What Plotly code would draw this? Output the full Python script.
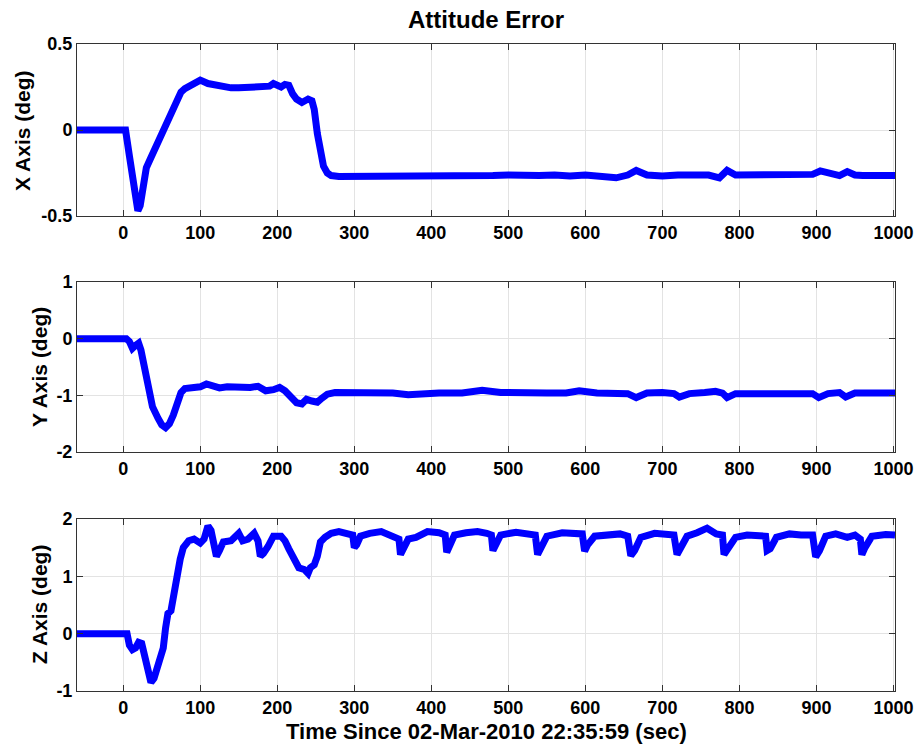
import plotly.graph_objects as go

# ---------------- data ----------------
x_t = [-60, 3, 8, 14, 19, 22, 26, 30, 35, 40, 45, 50, 55, 60, 65, 70, 75, 80, 90, 100,
       110, 120, 130, 140, 150, 160, 170, 180, 190, 195, 200, 205, 210, 215, 220, 225,
       232, 240, 245, 248, 252, 256, 260, 265, 270, 280, 300, 320, 340, 360, 380, 400,
       420, 440, 460, 480, 500, 520, 540, 560, 580, 600, 620, 640, 655, 666, 680, 700,
       720, 740, 760, 774, 784, 795, 820, 840, 860, 880, 895, 905, 920, 930, 940, 950,
       960, 980, 1002]
x_err = [0, 0, -0.15, -0.35, -0.47, -0.44, -0.32, -0.22, -0.17, -0.12, -0.07, -0.03, 0.02,
         0.07, 0.12, 0.18, 0.22, 0.24, 0.27, 0.29, 0.27, 0.26, 0.25, 0.245, 0.245, 0.25,
         0.245, 0.25, 0.255, 0.27, 0.26, 0.25, 0.265, 0.26, 0.21, 0.18, 0.16, 0.18, 0.17,
         0.12, -0.02, -0.14, -0.21, -0.25, -0.265, -0.27, -0.27, -0.275, -0.27, -0.27,
         -0.275, -0.27, -0.268, -0.265, -0.27, -0.265, -0.262, -0.268, -0.265, -0.262,
         -0.268, -0.262, -0.265, -0.278, -0.262, -0.235, -0.262, -0.268, -0.262, -0.265,
         -0.262, -0.278, -0.235, -0.262, -0.262, -0.265, -0.265, -0.262, -0.258, -0.238,
         -0.255, -0.265, -0.242, -0.262, -0.265, -0.262, -0.265]

y_t = [-60, 4, 8, 12, 16, 20, 23, 27, 32, 38, 45, 50, 55, 60, 65, 70, 75, 80, 90, 100,
       108, 115, 125, 135, 150, 165, 175, 185, 195, 203, 210, 218, 225, 232, 238, 245,
       252, 258, 265, 275, 290, 320, 350, 370, 390, 410, 440, 466, 490, 520, 550, 575,
       592, 615, 640, 655, 666, 680, 700, 715, 722, 735, 755, 769, 778, 784, 795, 820,
       850, 880, 895, 903, 915, 930, 938, 950, 975, 1002]
y_err = [0, 0, -0.05, -0.17, -0.12, -0.08, -0.2, -0.5, -0.85, -1.2, -1.4, -1.52, -1.57,
         -1.5, -1.35, -1.18, -0.95, -0.88, -0.86, -0.85, -0.8, -0.83, -0.87, -0.85, -0.87,
         -0.86, -0.84, -0.92, -0.9, -0.86, -0.92, -1.05, -1.13, -1.15, -1.07, -1.1, -1.12,
         -1.05, -0.98, -0.95, -0.95, -0.96, -0.96, -0.99, -0.96, -0.96, -0.96, -0.91, -0.95,
         -0.97, -0.96, -0.96, -0.92, -0.96, -0.97, -0.97, -1.04, -0.96, -0.95, -0.97, -1.03,
         -0.97, -0.95, -0.93, -0.96, -1.04, -0.97, -0.97, -0.96, -0.96, -0.97, -1.04, -0.97,
         -0.95, -1.03, -0.96, -0.96, -0.96]

z_t = [-60, 5, 8, 12, 16, 20, 24, 28, 32, 36, 40, 44, 48, 52, 55, 58, 62, 66, 70, 74, 78,
       85, 92, 100, 105, 110, 114, 118, 121, 125, 130, 140, 150, 155, 162, 170, 175, 178,
       182, 188, 195, 205, 210, 215, 222, 228, 235, 240, 243, 248, 252, 256, 262, 270, 280,
       290, 298, 300, 303, 308, 320, 335, 348, 358, 360, 364, 370, 380, 395, 410, 418, 420,
       424, 430, 445, 460, 472, 478, 480, 484, 490, 510, 525, 535, 538, 542, 550, 570, 585,
       596, 599, 603, 612, 630, 645, 655, 659, 664, 672, 690, 705, 715, 719, 723, 732, 745,
       758, 770, 778, 780, 785, 795, 810, 825, 834, 836, 840, 848, 865, 880, 895, 899, 904,
       912, 925, 940, 950, 957, 959, 963, 972, 990, 1002]
z_err = [0, 0, -0.2, -0.28, -0.25, -0.15, -0.17, -0.4, -0.72, -0.85, -0.78, -0.62, -0.5,
         -0.25, 0.1, 0.35, 0.4, 0.75, 1.15, 1.3, 1.5, 1.62, 1.65, 1.58, 1.65, 1.88, 1.8, 1.6,
         1.35, 1.45, 1.6, 1.62, 1.75, 1.62, 1.65, 1.75, 1.62, 1.35, 1.4, 1.52, 1.7, 1.7, 1.62,
         1.48, 1.3, 1.15, 1.12, 1.05, 1.15, 1.2, 1.35, 1.6, 1.68, 1.75, 1.78, 1.75, 1.72, 1.5,
         1.55, 1.7, 1.75, 1.78, 1.7, 1.65, 1.38, 1.5, 1.65, 1.68, 1.78, 1.76, 1.72, 1.42, 1.55,
         1.72, 1.76, 1.78, 1.75, 1.72, 1.45, 1.55, 1.72, 1.77, 1.75, 1.72, 1.38, 1.5, 1.7,
         1.76, 1.75, 1.74, 1.44, 1.55, 1.7, 1.73, 1.74, 1.7, 1.36, 1.45, 1.68, 1.75, 1.74,
         1.72, 1.38, 1.5, 1.7, 1.76, 1.84, 1.74, 1.72, 1.38, 1.5, 1.68, 1.72, 1.72, 1.7, 1.45,
         1.48, 1.68, 1.74, 1.72, 1.72, 1.34, 1.45, 1.7, 1.74, 1.68, 1.72, 1.65, 1.38, 1.5,
         1.7, 1.73, 1.72]

x_ticks = [0, 100, 200, 300, 400, 500, 600, 700, 800, 900, 1000]
panel_yticks = [[-0.5, 0, 0.5], [-2, -1, 0, 1], [-1, 0, 1, 2]]
panel_ytext = [["-0.5", "0", "0.5"], ["-2", "-1", "0", "1"], ["-1", "0", "1", "2"]]
panel_yrange = [[-0.5, 0.5], [-2, 1], [-1, 2]]
panel_ylabel = ["X Axis (deg)", "Y Axis (deg)", "Z Axis (deg)"]
title_text = "Attitude Error"
xlabel_text = "Time Since 02-Mar-2010 22:35:59 (sec)"

# ---------------- figure ----------------
W, H = 917, 750
ML, MR, MT, MB = 77, 22, 44, 59
plot_h = H - MT - MB
plot_w = W - ML - MR

def dom(top_px, bot_px):
    return [1 - (bot_px - MT) / plot_h, 1 - (top_px - MT) / plot_h]

domains = [dom(44, 216), dom(282, 452), dom(519, 691)]
ylabel_x_px = [22, 39, 39]

FONT = "Liberation Sans, Arial, Helvetica, sans-serif"
AXC = "#333333"

fig = go.Figure()
series = [(x_t, x_err), (y_t, y_err), (z_t, z_err)]
for i, (tt, vv) in enumerate(series):
    sfx = "" if i == 0 else str(i + 1)
    fig.add_trace(go.Scatter(x=tt, y=vv, mode="lines",
                             line=dict(color="#0000ff", width=7),
                             xaxis="x" + sfx, yaxis="y" + sfx,
                             showlegend=False, hoverinfo="skip"))

axis_common = dict(showline=True, mirror="ticks", linecolor=AXC, linewidth=1,
                   ticks="inside", ticklen=6, tickcolor=AXC, tickwidth=1,
                   showgrid=True, gridcolor="#e3e3e3", gridwidth=1, zeroline=False,
                   automargin=False,
                   tickfont=dict(family=FONT, size=18, color="#000000", weight="bold"))

layout = dict(width=W, height=H, margin=dict(l=ML, r=MR, t=MT, b=MB, autoexpand=False),
              plot_bgcolor="white", paper_bgcolor="white", showlegend=False,
              title=dict(text=title_text, x=0.5, xref="paper", xanchor="center",
                         y=1 - 20 / H, yref="container", yanchor="middle",
                         automargin=False,
                         font=dict(family=FONT, size=24, color="#000000", weight="bold")))

annotations = []
for i in range(3):
    sfx = "" if i == 0 else str(i + 1)
    xa = dict(axis_common, domain=[0, 1], range=[-60, 1002], tickvals=x_ticks,
              ticktext=[str(v) for v in x_ticks], anchor="y" + sfx)
    ya = dict(axis_common, domain=domains[i], range=panel_yrange[i],
              tickvals=panel_yticks[i], ticktext=panel_ytext[i], anchor="x" + sfx)
    layout["xaxis" + sfx] = xa
    layout["yaxis" + sfx] = ya
    annotations.append(dict(text=panel_ylabel[i], textangle=-90, showarrow=False,
                            xref="paper", yref="paper",
                            x=(ylabel_x_px[i] - ML) / plot_w,
                            y=(domains[i][0] + domains[i][1]) / 2,
                            xanchor="center", yanchor="middle",
                            font=dict(family=FONT, size=21, color="#000000", weight="bold")))

annotations.append(dict(text=xlabel_text, showarrow=False, xref="paper", yref="paper",
                        x=0.5, y=-(731 - 691) / plot_h, xanchor="center", yanchor="middle",
                        font=dict(family=FONT, size=22, color="#000000", weight="bold")))
layout["annotations"] = annotations

fig.update_layout(**layout)
fig.write_html("out.html")
